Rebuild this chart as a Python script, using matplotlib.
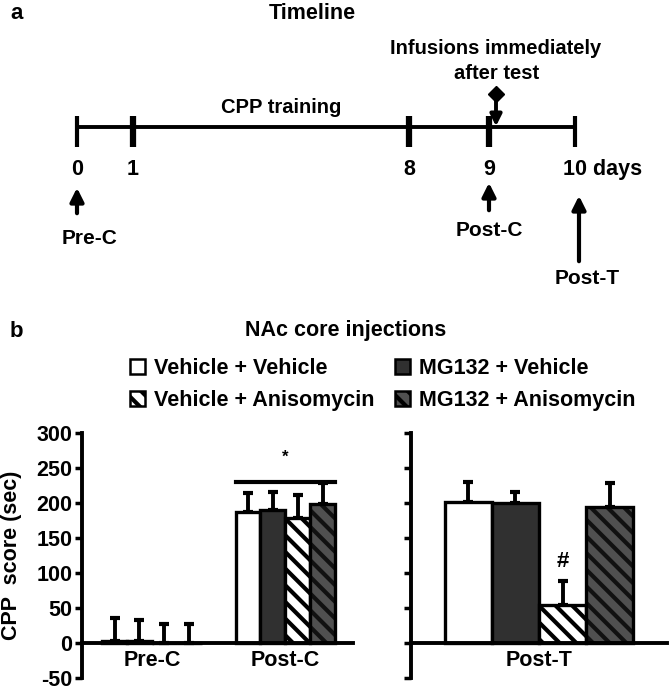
import matplotlib
matplotlib.use("Agg")
import matplotlib.pyplot as plt
from matplotlib.patches import Patch
import numpy as np

plt.rcParams['font.family'] = ['Liberation Sans', 'DejaVu Sans']
plt.rcParams['font.weight'] = 'bold'
plt.rcParams['axes.labelweight'] = 'bold'
plt.rcParams['axes.unicode_minus'] = False
plt.rcParams['hatch.linewidth'] = 3.0

# ---------------- data ----------------
timeline_days = ["0", "1", "8", "9", "10 days"]
timeline_x = [77, 133, 409, 489, 575]          # schematic layout positions (px)

groups = ["Vehicle + Vehicle", "MG132 + Vehicle", "Vehicle + Anisomycin", "MG132 + Anisomycin"]
left_cats = ["Pre-C", "Post-C"]
prec_vals = [3, 3, 0, 0]
prec_err = [33, 30, 27, 27]
postc_vals = [187, 190, 178, 198]
postc_err = [27, 26, 33, 31]
postt_cat = ["Post-T"]
postt_vals = [201, 200, 54, 194]
postt_err = [29, 16, 35, 34]
yticks = [-50, 0, 50, 100, 150, 200, 250, 300]

faces = ["white", "#303030", "white", "#505050"]
hatches = [None, None, "\\\\", "\\\\"]
hatch_cols = ["black", "black", "black", "#111111"]

W, H = 670, 691
fig = plt.figure(figsize=(W / 100, H / 100), dpi=100)

# ---------------- panel a : timeline (pixel coordinates) ----------------
ax0 = fig.add_axes([0, 0, 1, 1])
ax0.set_xlim(0, W)
ax0.set_ylim(H, 0)
ax0.axis("off")
ax0.text(10, 13, "a", fontsize=16, fontweight="bold", va="center", ha="left")
ax0.text(312, 13, "Timeline", fontsize=15.5, fontweight="heavy", ha="center", va="center")
ax0.plot([timeline_x[0], timeline_x[-1]], [127, 127], color="k", lw=2.8)
for i, (x, lab) in enumerate(zip(timeline_x, timeline_days)):
    lw = 3 if i in (0, len(timeline_x) - 1) else 4.5
    ax0.plot([x, x], [116, 147], color="k", lw=lw, solid_capstyle="butt")
    if lab.startswith("10"):
        ax0.text(x - 12, 169, lab, fontsize=15.5, ha="left", va="center")
    else:
        ax0.text(x, 169, lab, fontsize=15.5, ha="center", va="center")
ax0.text(281, 107, "CPP training", fontsize=14.5, ha="center", va="center")
ax0.text(496, 48, "Infusions immediately", fontsize=14.5, ha="center", va="center")
ax0.text(497, 73, "after test", fontsize=14.5, ha="center", va="center")
ax0.plot([496], [94], marker="D", color="k", ms=8)
ax0.annotate("", xy=(496, 129), xytext=(496, 96),
             arrowprops=dict(arrowstyle="-|>", lw=2.8, color="k", mutation_scale=17))
ax0.annotate("", xy=(77, 185), xytext=(77, 216),
             arrowprops=dict(arrowstyle="-|>", lw=3, color="k", mutation_scale=20))
ax0.text(90, 238, "Pre-C", fontsize=15, ha="center", va="center")
ax0.annotate("", xy=(489, 180), xytext=(489, 213),
             arrowprops=dict(arrowstyle="-|>", lw=3, color="k", mutation_scale=20))
ax0.text(489, 230, "Post-C", fontsize=15, ha="center", va="center")
ax0.annotate("", xy=(579, 193), xytext=(579, 264),
             arrowprops=dict(arrowstyle="-|>", lw=3, color="k", mutation_scale=20))
ax0.text(587, 278, "Post-T", fontsize=15, ha="center", va="center")

ax0.text(10, 331, "b", fontsize=16, fontweight="bold", va="center", ha="left")
ax0.text(346, 330, "NAc core injections", fontsize=15.5, fontweight="heavy", ha="center", va="center")


def px_axes(x0, x1, ytop, ybot):
    return fig.add_axes([x0 / W, 1 - ybot / H, (x1 - x0) / W, (ybot - ytop) / H])


def style(ax, labels=True):
    ax.set_ylim(-50, 300)
    ax.set_yticks(yticks)
    ax.spines["top"].set_visible(False)
    ax.spines["right"].set_visible(False)
    ax.spines["bottom"].set_position(("data", 0))
    ax.spines["left"].set_linewidth(2.8)
    ax.spines["bottom"].set_linewidth(2.8)
    ax.tick_params(axis="y", width=2.5, length=5, labelsize=15.5, pad=2)
    ax.tick_params(axis="x", length=0, labelsize=15.5, pad=5)
    if not labels:
        ax.set_yticklabels([])
    ax.patch.set_alpha(0)


def draw_bars(ax, xs, vals, errs, w):
    for i, (x, v, e) in enumerate(zip(xs, vals, errs)):
        b = ax.bar(x, v, width=w, color=faces[i], edgecolor="black", linewidth=2.4,
                   hatch=hatches[i], zorder=2)
        for p in b:
            p._hatch_color = matplotlib.colors.to_rgba(hatch_cols[i])
        ax.errorbar(x, v, yerr=[[0], [e]], fmt="none", ecolor="black",
                    elinewidth=2.8, capsize=3.5, capthick=3, zorder=1)


# left panel
axL = px_axes(82, 353, 433, 678)
style(axL)
w = 0.187
offs = (np.arange(4) - 1.5) * w
draw_bars(axL, 0 + offs, prec_vals, prec_err, w)
draw_bars(axL, 1 + offs, postc_vals, postc_err, w)
axL.set_xlim(-0.524, 1.506)
axL.set_xticks([0, 1])
axL.set_xticklabels(left_cats)
axL.set_ylabel("CPP  score (sec)", fontsize=15.5, fontweight="bold")
axL.yaxis.set_label_coords(-0.222, 0.5)
x0, x1 = 1 + offs[0] - w / 2, 1 + offs[-1] + w / 2
axL.plot([x0, x1], [230, 230], color="k", lw=3, clip_on=False)
axL.text(1, 266, "*", fontsize=12, ha="center", va="center")

# right panel
axR = px_axes(411, 667, 433, 678)
style(axR, labels=False)
wR = 1.0
offsR = (np.arange(4) - 1.5) * wR
draw_bars(axR, offsR, postt_vals, postt_err, wR)
axR.set_xlim(-2.72, 2.72)
axR.set_xticks([0])
axR.set_xticklabels(postt_cat)
axR.text(offsR[2], 117, "#", fontsize=16, ha="center", va="center")

# legend (two columns placed separately)
handles = [Patch(facecolor=faces[i], edgecolor="black", hatch=hatches[i], linewidth=1.8)
           for i in range(4)]
for cols, xl in (([0, 2], 130), ([1, 3], 395)):
    fig.legend([handles[i] for i in cols], [groups[i] for i in cols],
               frameon=False, fontsize=15.5, loc="upper left",
               bbox_to_anchor=(xl / W, 1 - 358 / H), handlelength=0.7, handleheight=0.7,
               handletextpad=0.4, labelspacing=0.5, borderpad=0, borderaxespad=0)

fig.savefig("out.png", dpi=100)
